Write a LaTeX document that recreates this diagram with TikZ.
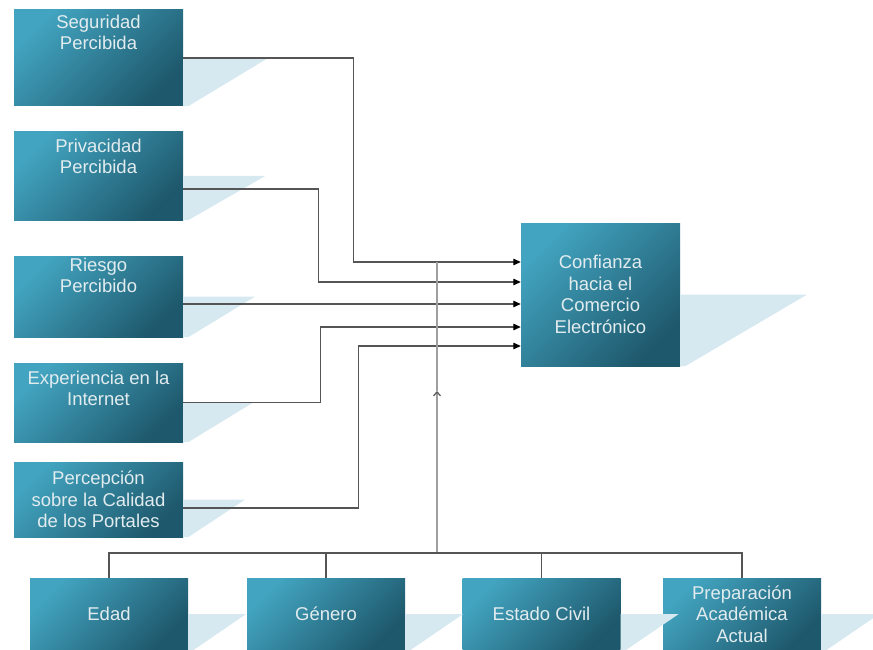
\documentclass[tikz,border=0pt]{standalone}
\usepackage{fontspec}
\setmainfont{Liberation Sans}
\usetikzlibrary{positioning,arrows.meta}

\definecolor{boxlight}{RGB}{66,164,192}
\definecolor{boxdark}{RGB}{30,88,108}
\definecolor{boxtext}{RGB}{226,236,239}
\definecolor{mirrorc}{RGB}{214,232,240}
\definecolor{linec}{RGB}{85,85,85}

\tikzset{
  box/.style={rectangle, inner sep=0pt, top color=boxlight, bottom color=boxdark,
    shading angle=45, minimum width=169pt},
  txt/.style={text=boxtext, align=center, inner sep=0pt,
    font=\fontsize{18.5}{21.5}\selectfont},
  mirror/.style={fill=mirrorc},
  link/.style={draw=linec, line width=1.2pt},
  arr/.style={link, -{Triangle[length=7.5pt,width=6.5pt,color=black]}}
}

% reflection under the right side of a box
\newcommand{\mirrorof}[2]{\fill[mirror] (#1.east) -- ++(#2,0) -- ([xshift=5pt]#1.south east) -- (#1.south east) -- cycle;}

\begin{document}
\begin{tikzpicture}[x=1pt,y=-1pt]
	\useasboundingbox (0,0) rectangle (873,650);

	% factors on the left
	\node[box, minimum height=96pt] (seg) at (98.5,58) {};
	\node[txt, below=5pt of seg.north] {Seguridad\\Percibida};
	\node[box, minimum height=88pt] (priv) at (98.5,176) {};
	\node[txt, below=7pt of priv.north] {Privacidad\\Percibida};
	\node[box, minimum height=81pt] (ries) at (98.5,296.5) {};
	\node[txt, below=2pt of ries.north] {Riesgo\\Percibido};
	\node[box, minimum height=79pt] (expe) at (98.5,402.5) {};
	\node[txt, below=8pt of expe.north] {Experiencia en la\\Internet};
	\node[box, minimum height=75pt, txt] (perc) at (98.5,499.5) {Percepción\\sobre la Calidad\\de los Portales};

	% trust
	\node[box, minimum width=159pt, minimum height=143pt, txt] (conf) at (600.5,294.5) {Confianza\\hacia el\\Comercio\\Electrónico};

	% moderators
	\node[box, minimum width=158pt, minimum height=72pt, txt] (edad) at (109,614) {Edad};
	\node[box, minimum width=158pt, minimum height=72pt, txt] (gene) at (326,614) {Género};
	\node[box, minimum width=158pt, minimum height=72pt, txt] (esta) at (541.5,614) {Estado Civil};
	\node[box, minimum width=158pt, minimum height=72pt, txt] (prep) at (742,614) {Preparación\\Académica\\Actual};

	% reflections
	\mirrorof{seg}{85}
	\mirrorof{priv}{82}
	\mirrorof{ries}{72}
	\mirrorof{expe}{70}
	\mirrorof{perc}{62}
	\mirrorof{conf}{127}
	\mirrorof{edad}{58}
	\mirrorof{gene}{58}
	\mirrorof{esta}{58}
	\mirrorof{prep}{58}

	% entry points
	\coordinate (in1) at ([yshift=32.5pt]conf.west);
	\coordinate (in2) at ([yshift=12.5pt]conf.west);
	\coordinate (in3) at ([yshift=-9.5pt]conf.west);
	\coordinate (in4) at ([yshift=-32.5pt]conf.west);
	\coordinate (in5) at ([yshift=-51.5pt]conf.west);

	% connectors
	\draw[arr] (seg.east) -- ++(170,0) |- (in1);
	\draw[arr] ([yshift=-13pt]priv.east) -- ++(135,0) |- (in2);
	\draw[arr] (ries.east |- in3) -- (in3);
	\draw[arr] (expe.east) -- ++(137,0) |- (in4);
	\draw[arr] ([yshift=-8.5pt]perc.east) -- ++(175,0) |- (in5);

	% moderating line
	\coordinate (hub) at (437,553);
	\coordinate (top) at (hub |- in1);
	\coordinate (mid) at (437,391);
	\draw[link, draw=gray!75] (mid) -- (top);
	\draw[link, draw=gray!75, -{Straight Barb[length=4pt,width=7pt,color=linec]}] (hub) -- (mid);
	\draw[link] (edad.north) |- (hub) -| (prep.north);
	\draw[link] (gene.north) -- (gene.north |- hub);
	\draw[link] (esta.north) -- (esta.north |- hub);
\end{tikzpicture}
\end{document}
